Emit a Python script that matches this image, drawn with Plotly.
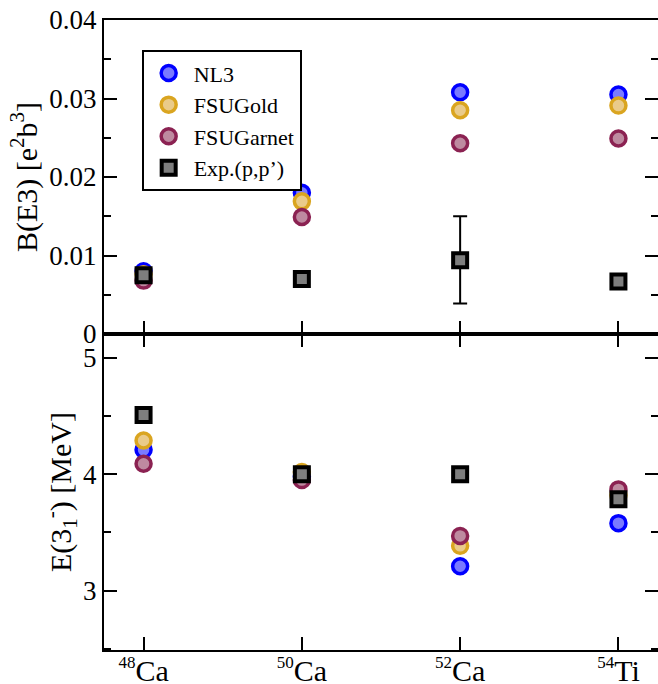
import plotly.graph_objects as go

nuclei = ["<sup><span style='font-size:17px'>48</span></sup>Ca",
          "<sup><span style='font-size:17px'>50</span></sup>Ca",
          "<sup><span style='font-size:17px'>52</span></sup>Ca",
          "<sup><span style='font-size:17px'>54</span></sup>Ti"]
xpos = [0, 1, 2, 3]

series_names = ["NL3", "FSUGold", "FSUGarnet", "Exp.(p,p’)"]

be3_nl3 = [0.0080, 0.0180, 0.0308, 0.0305]
be3_fsugold = [0.0076, 0.0169, 0.0285, 0.0291]
be3_fsugarnet = [0.0068, 0.0149, 0.0243, 0.0249]
be3_exp = [0.0075, 0.0070, 0.0094, 0.0067]
be3_exp_err_plus = [0, 0, 0.0056, 0]
be3_exp_err_minus = [0, 0, 0.0055, 0]

e3_nl3 = [4.21, 3.98, 3.21, 3.58]
e3_fsugold = [4.29, 4.02, 3.385, 3.82]
e3_fsugarnet = [4.09, 3.95, 3.47, 3.87]
e3_exp = [4.51, 4.00, 4.00, 3.785]

colors = {"NL3": "#0000FF", "FSUGold": "#DAA520", "FSUGarnet": "#8B2252", "Exp.(p,p’)": "#000000"}
fills = {"NL3": "#7A7AFF", "FSUGold": "#EACB8A", "FSUGarnet": "#BE8AA0", "Exp.(p,p’)": "#7E7E7E"}

FONT = "Liberation Serif"

fig = go.Figure()

top = [be3_nl3, be3_fsugold, be3_fsugarnet, be3_exp]
bot = [e3_nl3, e3_fsugold, e3_fsugarnet, e3_exp]

for i, name in enumerate(series_names):
    sym = "square" if i == 3 else "circle"
    mk = dict(symbol=sym, size=15 if i < 3 else 14, color=fills[name],
              line=dict(color=colors[name], width=3.5 if i < 3 else 4))
    err = None
    if i == 3:
        err = dict(type="data", symmetric=False, array=be3_exp_err_plus,
                   arrayminus=be3_exp_err_minus, color="black", thickness=2, width=7)
    fig.add_trace(go.Scatter(x=xpos, y=top[i], mode="markers", marker=mk, name=name,
                             xaxis="x2", yaxis="y2", error_y=err, showlegend=True))
    fig.add_trace(go.Scatter(x=xpos, y=bot[i], mode="markers", marker=mk, name=name,
                             xaxis="x", yaxis="y", showlegend=False))

split = 316 / 630
xr = [-0.25, 3.25]
axcommon = dict(showline=True, linecolor="black", linewidth=2, ticks="inside",
                tickcolor="black", tickwidth=2, showgrid=False, zeroline=False)

fig.update_layout(
    width=658, height=684,
    margin=dict(l=104, r=0, t=20, b=34),
    paper_bgcolor="white", plot_bgcolor="white",
    font=dict(family=FONT, color="black"),
    xaxis=dict(**axcommon, domain=[0, 1], anchor="y", range=xr, tickvals=xpos, ticktext=nuclei,
               ticklen=13, mirror="ticks", tickfont=dict(size=30, family=FONT),
               automargin=False, ticklabelstandoff=-7),
    yaxis=dict(**axcommon, domain=[0, split], anchor="x", range=[2.49, 5.205],
               tickvals=[3, 4, 5], ticklen=13, mirror="allticks", automargin=False,
               minor=dict(dtick=0.5, tick0=0, ticks="inside", ticklen=7, tickwidth=2, tickcolor="black"),
               tickfont=dict(size=27, family=FONT),
               title=dict(text="E(3<sub>1</sub><sup>-</sup>) [MeV]", font=dict(size=30, family=FONT), standoff=3)),
    xaxis2=dict(**axcommon, domain=[0, 1], anchor="y2", range=xr, tickvals=xpos,
                showticklabels=False, ticklen=13, mirror=True),
    xaxis3=dict(showline=False, ticks="inside", tickcolor="black", tickwidth=2, ticklen=13,
                overlaying="x2", side="top", anchor="y2", range=xr, tickvals=xpos,
                showticklabels=False, showgrid=False, zeroline=False,
                minor=dict(tickvals=[0.5, 1.5, 2.5], ticks="inside", ticklen=7, tickwidth=2, tickcolor="black")),
    yaxis2=dict(**axcommon, domain=[split, 1], anchor="x2", range=[0, 0.04],
                tickvals=[0, 0.01, 0.02, 0.03, 0.04], ticktext=["0", "0.01", "0.02", "0.03", "0.04"],
                ticklen=13, mirror="allticks", automargin=False,
                minor=dict(dtick=0.005, tick0=0, ticks="inside", ticklen=7, tickwidth=2, tickcolor="black"),
                tickfont=dict(size=27, family=FONT),
                title=dict(text="B(E3) [e<sup>2</sup>b<sup>3</sup>]", font=dict(size=30, family=FONT), standoff=3)),
    legend=dict(x=0.068, y=0.952, xanchor="left", yanchor="top",
                bordercolor="black", borderwidth=2, bgcolor="white", itemwidth=40,
                font=dict(size=22, family=FONT), tracegroupgap=0),
    showlegend=True,
)

fig.write_html("out.html", config={"displayModeBar": False},
               post_script="document.body.style.margin='0';document.body.style.padding='0';")
